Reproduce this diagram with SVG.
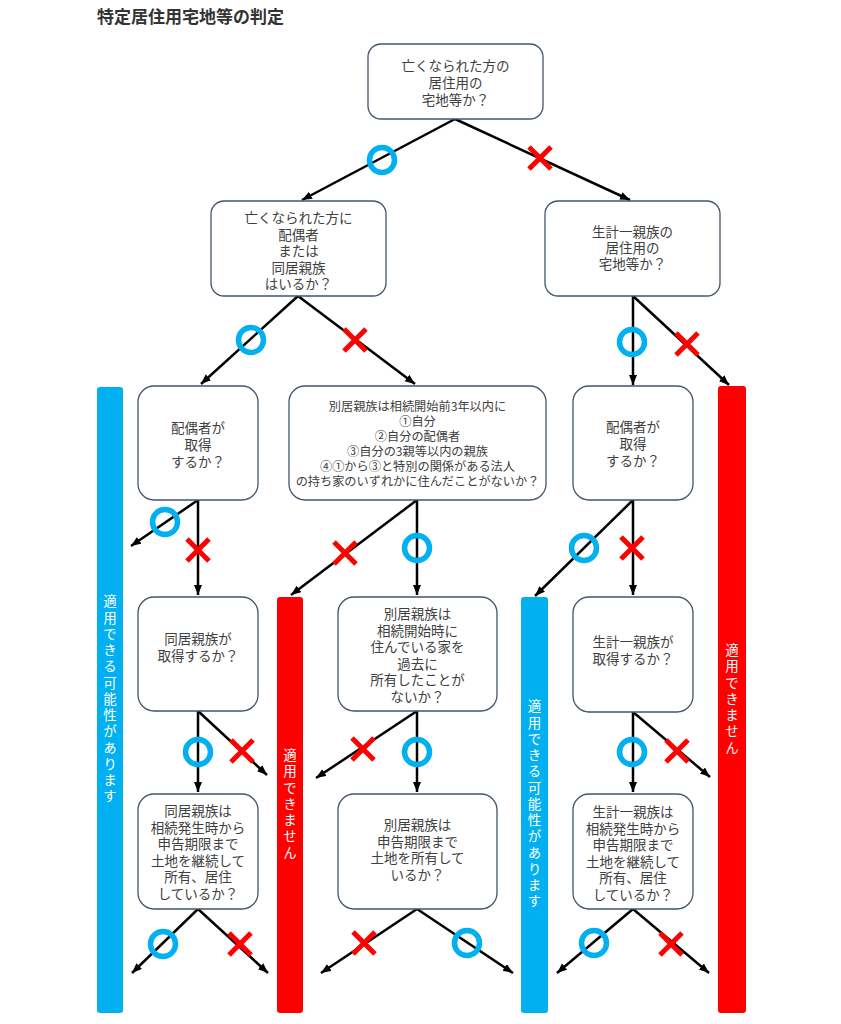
<svg xmlns="http://www.w3.org/2000/svg" width="841" height="1024" viewBox="0 0 841 1024">
<style>
.box{fill:#fff;stroke:#44546A;stroke-width:1.3}
.t{font-family:"Noto Sans CJK JP","Noto Sans",sans-serif;font-size:13.5px;fill:#404040;text-anchor:middle;dominant-baseline:central}
.s{font-size:12.2px}
.bt{font-family:"Noto Sans CJK JP","Noto Sans",sans-serif;font-size:13.5px;fill:#fff;text-anchor:middle;writing-mode:vertical-rl;letter-spacing:2.75px}
.ln{stroke:#000;stroke-width:2.5;fill:none;marker-end:url(#ah)}
.title{font-family:"Noto Sans CJK JP","Noto Sans",sans-serif;font-size:17px;font-weight:bold;fill:#333;dominant-baseline:central}
</style>
<defs>
<marker id="ah" markerUnits="userSpaceOnUse" markerWidth="11" markerHeight="9" refX="10" refY="4" orient="auto">
<path d="M0,0 L10,4 L0,8 z" fill="#000"/>
</marker>
<g id="ok"><circle r="12.5" fill="none" stroke="#00B0F0" stroke-width="5.5"/></g>
<g id="ng"><path d="M-11,-11 L11,11 M11,-11 L-11,11" stroke="#FF0000" stroke-width="5" fill="none"/></g>
</defs>
<rect width="841" height="1024" fill="#fff"/>
<text class="title" x="97" y="15">特定居住用宅地等の判定</text>

<g id="bar-blue-1"><rect x="97" y="387" width="26" height="626" rx="3" fill="#00B0F0"/><text class="bt" x="110" y="700">適用できる可能性があります</text></g>
<g id="bar-red-2"><rect x="277" y="597" width="26" height="416" rx="3" fill="#FF0000"/><text class="bt" x="290" y="805">適用できません</text></g>
<g id="bar-blue-2"><rect x="521" y="597" width="27" height="416" rx="3" fill="#00B0F0"/><text class="bt" x="534.5" y="805">適用できる可能性があります</text></g>
<g id="bar-red-1"><rect x="718" y="386" width="28" height="627" rx="3" fill="#FF0000"/><text class="bt" x="732" y="700">適用できません</text></g>

<g id="connectors">
<line class="ln" x1="455" y1="119" x2="302" y2="200"/>
<line class="ln" x1="455" y1="119" x2="630" y2="200"/>
<line class="ln" x1="298" y1="296" x2="201" y2="384"/>
<line class="ln" x1="298" y1="296" x2="415" y2="384"/>
<line class="ln" x1="633" y1="296" x2="633" y2="385"/>
<line class="ln" x1="633" y1="296" x2="729" y2="385"/>
<line class="ln" x1="198" y1="500" x2="131" y2="546"/>
<line class="ln" x1="198" y1="500" x2="198" y2="595"/>
<line class="ln" x1="417" y1="500" x2="291" y2="595"/>
<line class="ln" x1="417" y1="500" x2="417" y2="595"/>
<line class="ln" x1="633" y1="500" x2="535" y2="596"/>
<line class="ln" x1="633" y1="500" x2="633" y2="595"/>
<line class="ln" x1="198" y1="711" x2="198" y2="792"/>
<line class="ln" x1="198" y1="711" x2="267" y2="775"/>
<line class="ln" x1="417" y1="711" x2="316" y2="778"/>
<line class="ln" x1="417" y1="711" x2="417" y2="792"/>
<line class="ln" x1="633" y1="712" x2="633" y2="792"/>
<line class="ln" x1="633" y1="712" x2="710" y2="777"/>
<line class="ln" x1="198" y1="909" x2="132" y2="973"/>
<line class="ln" x1="198" y1="909" x2="268" y2="973"/>
<line class="ln" x1="417" y1="909" x2="321" y2="973"/>
<line class="ln" x1="417" y1="909" x2="513" y2="973"/>
<line class="ln" x1="633" y1="909" x2="557" y2="973"/>
<line class="ln" x1="633" y1="909" x2="709" y2="973"/>
</g>

<g id="marks">
<use href="#ok" x="382" y="160"/>
<use href="#ok" x="251" y="340"/>
<use href="#ok" x="632" y="342"/>
<use href="#ok" x="165" y="522"/>
<use href="#ok" x="417" y="548"/>
<use href="#ok" x="584" y="548"/>
<use href="#ok" x="198" y="752"/>
<use href="#ok" x="417" y="752"/>
<use href="#ok" x="632" y="752"/>
<use href="#ok" x="163" y="944"/>
<use href="#ok" x="467" y="943"/>
<use href="#ok" x="594" y="943"/>
<use href="#ng" x="540" y="158"/>
<use href="#ng" x="355" y="340"/>
<use href="#ng" x="687" y="344"/>
<use href="#ng" x="198" y="550"/>
<use href="#ng" x="345" y="553"/>
<use href="#ng" x="632" y="548"/>
<use href="#ng" x="242" y="751"/>
<use href="#ng" x="363" y="749"/>
<use href="#ng" x="677" y="751"/>
<use href="#ng" x="240" y="944"/>
<use href="#ng" x="364" y="943"/>
<use href="#ng" x="671" y="944"/>
</g>

<g id="n1"><rect class="box" x="368" y="44" width="175" height="75" rx="13"/>
<text class="t" x="455.5"><tspan x="455.5" y="65">亡くなられた方の</tspan><tspan x="455.5" y="82">居住用の</tspan><tspan x="455.5" y="99">宅地等か？</tspan></text></g>

<g id="n2"><rect class="box" x="211" y="201" width="175" height="95" rx="13"/>
<text class="t"><tspan x="298.5" y="217">亡くなられた方に</tspan><tspan x="298.5" y="233.5">配偶者</tspan><tspan x="298.5" y="250">または</tspan><tspan x="298.5" y="266.5">同居親族</tspan><tspan x="298.5" y="283">はいるか？</tspan></text></g>

<g id="n3"><rect class="box" x="545" y="201" width="175" height="95" rx="13"/>
<text class="t"><tspan x="632.5" y="231">生計一親族の</tspan><tspan x="632.5" y="247">居住用の</tspan><tspan x="632.5" y="263">宅地等か？</tspan></text></g>

<g id="n4"><rect class="box" x="138" y="386" width="120" height="114" rx="16"/>
<text class="t"><tspan x="198" y="426.5">配偶者が</tspan><tspan x="198" y="443.5">取得</tspan><tspan x="198" y="460.5">するか？</tspan></text></g>

<g id="n5"><rect class="box" x="289" y="386" width="257" height="114" rx="16"/>
<text class="t s"><tspan x="417.5" y="406">別居親族は相続開始前3年以内に</tspan><tspan x="417.5" y="421">①自分</tspan><tspan x="417.5" y="436">②自分の配偶者</tspan><tspan x="417.5" y="451">③自分の3親等以内の親族</tspan><tspan x="417.5" y="466">④①から③と特別の関係がある法人</tspan><tspan x="417.5" y="480.5">の持ち家のいずれかに住んだことがないか？</tspan></text></g>

<g id="n6"><rect class="box" x="573" y="386" width="120" height="114" rx="16"/>
<text class="t"><tspan x="633" y="426">配偶者が</tspan><tspan x="633" y="443">取得</tspan><tspan x="633" y="460">するか？</tspan></text></g>

<g id="n7"><rect class="box" x="138" y="597" width="120" height="114" rx="16"/>
<text class="t"><tspan x="198" y="638">同居親族が</tspan><tspan x="198" y="655">取得するか？</tspan></text></g>

<g id="n8"><rect class="box" x="338" y="597" width="159" height="114" rx="16"/>
<text class="t"><tspan x="417.5" y="613">別居親族は</tspan><tspan x="417.5" y="629.6">相続開始時に</tspan><tspan x="417.5" y="646.2">住んでいる家を</tspan><tspan x="417.5" y="662.8">過去に</tspan><tspan x="417.5" y="679.4">所有したことが</tspan><tspan x="417.5" y="696">ないか？</tspan></text></g>

<g id="n9"><rect class="box" x="573" y="597" width="120" height="115" rx="16"/>
<text class="t"><tspan x="633" y="641">生計一親族が</tspan><tspan x="633" y="658">取得するか？</tspan></text></g>

<g id="n10"><rect class="box" x="138" y="794" width="120" height="115" rx="16"/>
<text class="t"><tspan x="198" y="810">同居親族は</tspan><tspan x="198" y="826.5">相続発生時から</tspan><tspan x="198" y="843">申告期限まで</tspan><tspan x="198" y="859.5">土地を継続して</tspan><tspan x="198" y="876">所有、居住</tspan><tspan x="198" y="892.5">しているか？</tspan></text></g>

<g id="n11"><rect class="box" x="338" y="794" width="159" height="115" rx="16"/>
<text class="t"><tspan x="417.5" y="824">別居親族は</tspan><tspan x="417.5" y="840.5">申告期限まで</tspan><tspan x="417.5" y="857">土地を所有して</tspan><tspan x="417.5" y="873.5">いるか？</tspan></text></g>

<g id="n12"><rect class="box" x="573" y="794" width="120" height="115" rx="16"/>
<text class="t"><tspan x="633" y="811">生計一親族は</tspan><tspan x="633" y="827.5">相続発生時から</tspan><tspan x="633" y="844">申告期限まで</tspan><tspan x="633" y="860.5">土地を継続して</tspan><tspan x="633" y="877">所有、居住</tspan><tspan x="633" y="893.5">しているか？</tspan></text></g>
</svg>
